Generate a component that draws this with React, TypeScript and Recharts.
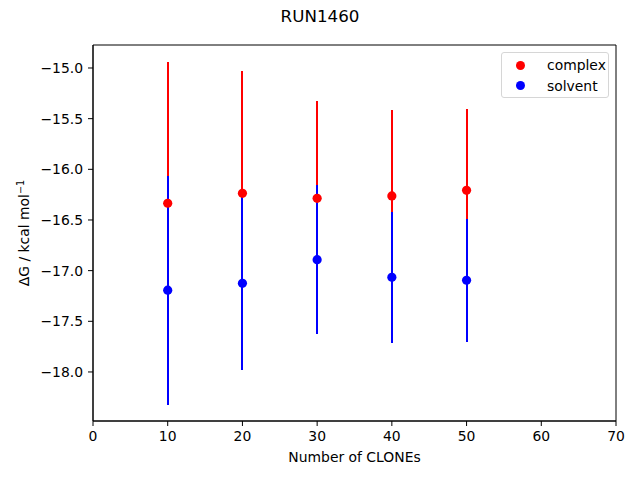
import React from 'react'
import { ScatterChart, Scatter, XAxis, YAxis, ErrorBar, ReferenceArea } from 'recharts'

const clones = [10, 20, 30, 40, 50]
const complexDG = [-16.335, -16.237, -16.286, -16.263, -16.207]
const complexErr = [1.394, 1.207, 0.96, 0.849, 0.802]
const solventDG = [-17.193, -17.125, -16.892, -17.065, -17.095]
const solventErr = [1.13, 0.853, 0.737, 0.646, 0.605]

const seriesNames = ['complex', 'solvent']
const seriesColors = ['red', 'blue']

const xTicks = [0, 10, 20, 30, 40, 50, 60, 70]
const yTicks = [-18, -17.5, -17, -16.5, -16, -15.5, -15]
const yDomain = [-18.484, -14.773]

const complexData = clones.map((c, i) => ({ x: c, y: complexDG[i], err: complexErr[i] }))
const solventData = clones.map((c, i) => ({ x: c, y: solventDG[i], err: solventErr[i] }))

const font = 'DejaVu Sans'
const fmt = (v: number) => v.toFixed(1).replace('-', '\u2212')

const dot = (color: string) => (p: any) => <circle cx={p.cx} cy={p.cy} r={4.6} fill={color} />
const nothing = () => <g />

// legend drawn as plain html in the corner of the axes
function LegendBox() {
  return (
    <div style={{ position: 'absolute', left: 501, top: 52, width: 108, height: 46, border: '1px solid #d6d6d6', borderRadius: 3, background: 'white', fontFamily: font, fontSize: 13.9, boxSizing: 'border-box', paddingTop: 2 }}>
      {seriesNames.map((name, i) => (
        <div key={name} style={{ display: 'flex', alignItems: 'center', height: 20.5 }}>
          <span style={{ display: 'inline-block', width: 9, height: 9, borderRadius: '50%', background: seriesColors[i], marginLeft: 14, marginRight: 22 }} />
          <span>{name}</span>
        </div>
      ))}
    </div>
  )
}

export default function App() {
  return (
    <div style={{ position: 'absolute', left: 0, top: 0, width: 640, height: 480, background: 'white' }}>
      <style>{'.recharts-errorBar line { shape-rendering: crispEdges; }'}</style>
      <div style={{ position: 'absolute', left: 0, width: 640, top: 6, textAlign: 'center', fontFamily: font, fontSize: 16.7 }}>RUN1460</div>
      <ScatterChart width={640} height={480} margin={{ top: 45, right: 24, bottom: 0, left: 0 }}>
        <XAxis
          type="number"
          dataKey="x"
          domain={[0, 70]}
          ticks={xTicks}
          height={59}
          tickSize={5}
          tickMargin={5}
          stroke="black"
          tick={{ fill: 'black', fontFamily: font, fontSize: 13.9 }}
          label={{
            content: () => (
              <text x={354.5} y={462} textAnchor="middle" fontFamily={font} fontSize={13.9} fill="black">Number of CLONEs</text>
            ),
          }}
        />
        <YAxis
          type="number"
          dataKey="y"
          domain={yDomain}
          allowDataOverflow
          ticks={yTicks}
          width={93}
          tickSize={5}
          tickMargin={5}
          tickFormatter={fmt}
          stroke="black"
          tick={{ fill: 'black', fontFamily: font, fontSize: 13.9 }}
          label={{
            content: () => (
              <text x={29} y={233} transform="rotate(-90 29 233)" textAnchor="middle" fontFamily={font} fontSize={13.9} fill="black">
                ΔG / kcal mol<tspan dy={-5} fontSize={9.7}>−1</tspan>
              </text>
            ),
          }}
        />
        <ReferenceArea x1={0} x2={70} y1={yDomain[0]} y2={yDomain[1]} fill="none" stroke="black" strokeWidth={1} ifOverflow="visible" />
        <Scatter data={complexData} fill="red" shape={nothing} legendType="none" isAnimationActive={false}>
          <ErrorBar dataKey="err" direction="y" width={0} stroke="red" strokeWidth={2} isAnimationActive={false} />
        </Scatter>
        <Scatter data={solventData} fill="blue" shape={nothing} legendType="none" isAnimationActive={false}>
          <ErrorBar dataKey="err" direction="y" width={0} stroke="blue" strokeWidth={2} isAnimationActive={false} />
        </Scatter>
        <Scatter name={seriesNames[0]} data={complexData} fill={seriesColors[0]} shape={dot(seriesColors[0])} isAnimationActive={false} />
        <Scatter name={seriesNames[1]} data={solventData} fill={seriesColors[1]} shape={dot(seriesColors[1])} isAnimationActive={false} />
      </ScatterChart>
      <LegendBox />
    </div>
  )
}
